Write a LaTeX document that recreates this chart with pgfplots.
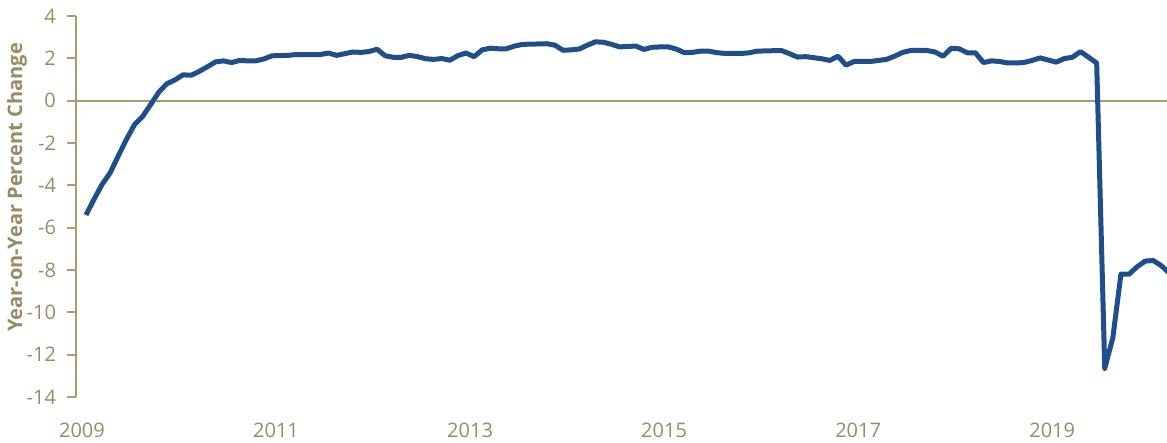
\documentclass[border=0pt]{standalone}
\usepackage{pgfplots}
\pgfplotsset{compat=1.18}
\usepackage{fontspec}
\setmainfont{Open Sans}
\definecolor{lineblue}{RGB}{31,78,138}
\definecolor{axisc}{RGB}{168,158,108}
\definecolor{textc}{RGB}{150,141,100}
\begin{document}
\begin{tikzpicture}
\begin{axis}[
    scale only axis,
    width=545.5pt, height=190.5pt,
    xmin=-1.24, xmax=133.7,
    ymin=-14, ymax=4,
    axis y line=left,
    axis x line=bottom,
    x axis line style={draw=none},
    y axis line style={draw=axisc, line width=1pt, -},
    major x tick style={draw=none},
    ytick={-14,-12,...,4},
    tick align=outside,
    major y tick style={draw=axisc, line width=1pt},
    major tick length=4.5pt,
    xtick={-0.5,23.5,47.5,71.5,95.5,119.5},
    xticklabels={2009,2011,2013,2015,2017,2019},
    /pgf/number format/assume math mode=true,
    ticklabel style={font=\fontsize{10}{12}\selectfont, text=textc},
    xticklabel style={yshift=-5pt},
    yticklabel style={xshift=-2pt},
    ylabel={Year-on-Year Percent Change},
    every axis y label/.style={at={(rel axis cs:0,0.55)}, rotate=90, anchor=center, yshift=29.5pt,
        font=\fontsize{10}{12}\selectfont\bfseries, text=textc},
    clip=false,
]
\addplot[axisc, line width=1pt, forget plot] coordinates {(-1.24,0) (133.7,0)};
\addplot[lineblue, line width=2.5pt, line join=round] table {
x y
0 -5.40
1 -4.65
2 -3.95
3 -3.40
4 -2.60
5 -1.83
6 -1.13
7 -0.75
8 -0.18
9 0.40
10 0.80
11 0.98
12 1.22
13 1.20
14 1.38
15 1.60
16 1.83
17 1.88
18 1.80
19 1.90
20 1.88
21 1.88
22 1.97
23 2.12
24 2.13
25 2.14
26 2.18
27 2.18
28 2.18
29 2.18
30 2.25
31 2.14
32 2.22
33 2.30
34 2.28
35 2.32
36 2.43
37 2.12
38 2.05
39 2.05
40 2.14
41 2.08
42 1.98
43 1.95
44 1.99
45 1.91
46 2.13
47 2.25
48 2.08
49 2.40
50 2.48
51 2.45
52 2.45
53 2.58
54 2.66
55 2.67
56 2.68
57 2.69
58 2.62
59 2.38
60 2.40
61 2.44
62 2.62
63 2.78
64 2.76
65 2.66
66 2.54
67 2.56
68 2.58
69 2.42
70 2.52
71 2.54
72 2.54
73 2.44
74 2.27
75 2.28
76 2.34
77 2.34
78 2.27
79 2.23
80 2.23
81 2.23
82 2.26
83 2.34
84 2.35
85 2.36
86 2.37
87 2.22
88 2.06
89 2.08
90 2.03
91 1.98
92 1.90
93 2.10
94 1.68
95 1.85
96 1.86
97 1.85
98 1.90
99 1.95
100 2.10
101 2.28
102 2.37
103 2.37
104 2.37
105 2.30
106 2.10
107 2.47
108 2.45
109 2.26
110 2.26
111 1.80
112 1.88
113 1.85
114 1.78
115 1.78
116 1.80
117 1.90
118 2.02
119 1.92
120 1.82
121 1.99
122 2.05
123 2.32
124 2.05
125 1.78
126 -12.65
127 -11.20
128 -8.20
129 -8.20
130 -7.85
131 -7.58
132 -7.55
133 -7.80
134 -8.15
};
\end{axis}
\pgfresetboundingbox
\path (current axis.south west) ++(-38pt,-23pt) coordinate (bl);
\path (current axis.north east) ++(0pt,8pt) coordinate (tr);
\useasboundingbox (bl) rectangle (tr);
\end{tikzpicture}
\end{document}
